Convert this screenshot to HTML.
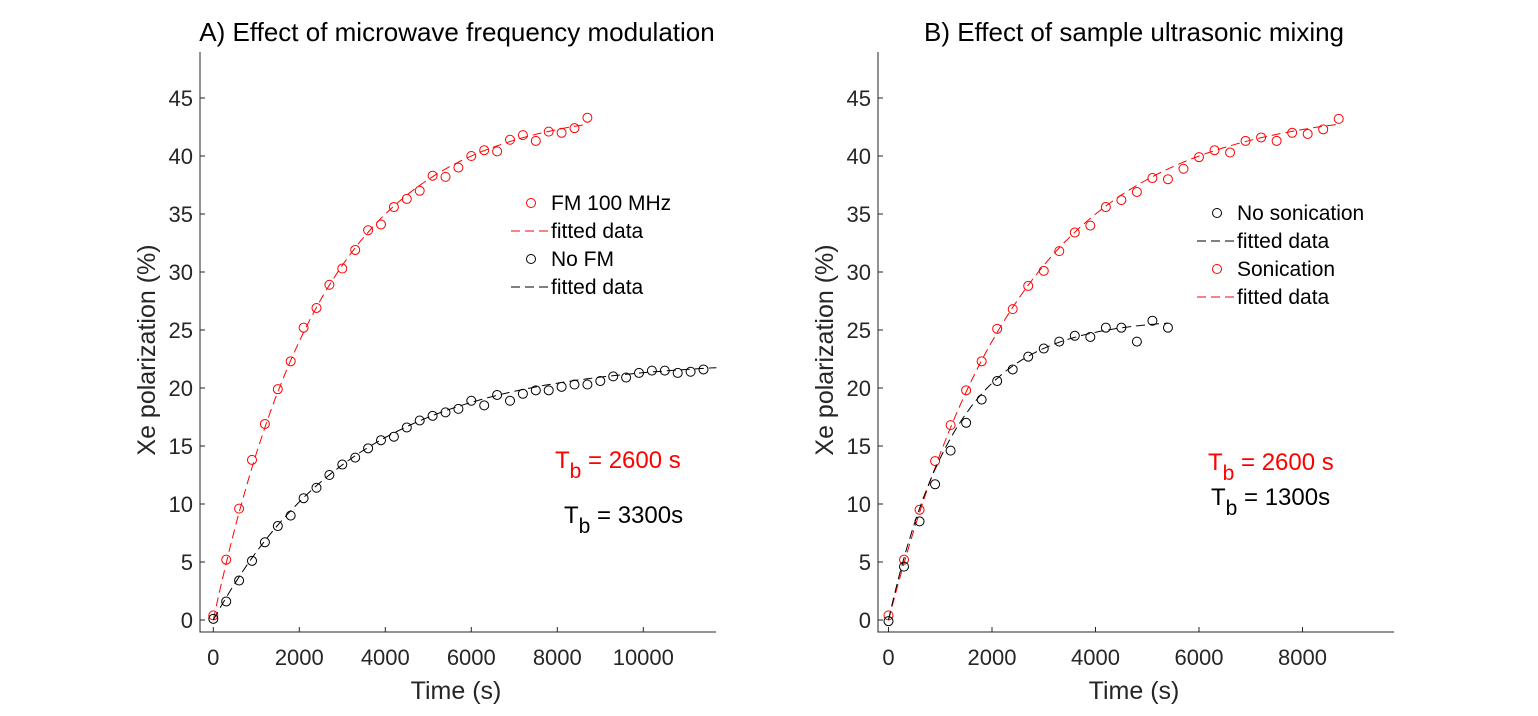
<!DOCTYPE html>
<html><head><meta charset="utf-8"><style>
body{margin:0;background:#fff;}
svg text{font-family:"Liberation Sans",Arial,sans-serif;}
</style></head><body>
<svg id="fig" width="1538" height="711" xmlns="http://www.w3.org/2000/svg"></svg>
<script>
const timesA_red = [0,300,600,900,1200,1500,1800,2100,2400,2700,3000,3300,3600,3900,4200,4500,4800,5100,5400,5700,6000,6300,6600,6900,7200,7500,7800,8100,8400,8700];
const valuesA_red = [0.4,5.2,9.6,13.8,16.9,19.9,22.3,25.2,26.9,28.9,30.3,31.9,33.6,34.1,35.6,36.3,37.0,38.3,38.2,39.0,40.0,40.5,40.4,41.4,41.8,41.3,42.1,42.0,42.4,43.3];
const timesA_black = [0,300,600,900,1200,1500,1800,2100,2400,2700,3000,3300,3600,3900,4200,4500,4800,5100,5400,5700,6000,6300,6600,6900,7200,7500,7800,8100,8400,8700,9000,9300,9600,9900,10200,10500,10800,11100,11400];
const valuesA_black = [0.1,1.6,3.4,5.1,6.7,8.1,9.0,10.5,11.4,12.5,13.4,14.0,14.8,15.5,15.8,16.6,17.2,17.6,17.9,18.2,18.9,18.5,19.4,18.9,19.5,19.8,19.8,20.1,20.3,20.3,20.6,21.0,20.9,21.3,21.5,21.5,21.3,21.4,21.6];
const timesB_black = [0,300,600,900,1200,1500,1800,2100,2400,2700,3000,3300,3600,3900,4200,4500,4800,5100,5400];
const valuesB_black = [-0.1,4.6,8.5,11.7,14.6,17.0,19.0,20.6,21.6,22.7,23.4,24.0,24.5,24.4,25.2,25.2,24.0,25.8,25.2];
const timesB_red = timesA_red;
const valuesB_red = [0.4,5.2,9.5,13.7,16.8,19.8,22.3,25.1,26.8,28.8,30.1,31.8,33.4,34.0,35.6,36.2,36.9,38.1,38.0,38.9,39.9,40.5,40.3,41.3,41.6,41.3,42.0,41.9,42.3,43.2];
// exponential fit parameters [amplitude, Tb, tEnd]
const fitA_red = [44.2, 2550, 8700];
const fitA_black = [22.4, 3300, 11700];
const fitB_red = [44.2, 2550, 8700];
const fitB_black = [26.0, 1300, 5400];
const yTicks = [0,5,10,15,20,25,30,35,40,45];
const xTicksA = [0,2000,4000,6000,8000,10000];
const xTicksB = [0,2000,4000,6000,8000];

const NS="http://www.w3.org/2000/svg";
const svg=document.getElementById('fig');
function el(tag,attrs,parent,text){const e=document.createElementNS(NS,tag);for(const k in attrs)e.setAttribute(k,attrs[k]);if(text!==undefined)e.textContent=text;(parent||svg).appendChild(e);return e;}

function panel(cfg){
  const g=el('g',{});
  
  
  const L=cfg.left,R=cfg.right,T=52,B=632;
  const x=v=>cfg.x0+v*cfg.xs;
  const y=v=>620-v*11.6;
  const ax=el('path',{d:`M${L},${T}V${B}H${R}`,stroke:'#262626',fill:'none','stroke-width':1},g);
  
  
  yTicks.forEach(t=>{
    el('line',{x1:L,x2:L+5,y1:y(t),y2:y(t),stroke:'#262626'},g);
    const tx=el('text',{x:L-7,y:y(t)+8,'text-anchor':'end','font-size':22,fill:'#262626'},g,String(t));
    
    
  });
  cfg.xticks.forEach(t=>{
    el('line',{x1:x(t),x2:x(t),y1:B,y2:B-5,stroke:'#262626'},g);
    const tx=el('text',{x:x(t),y:B+33,'text-anchor':'middle','font-size':22,fill:'#262626'},g,String(t));
    
    
  });
  const ttl=el('text',{x:cfg.tx,y:41,'text-anchor':'middle','font-size':26,fill:'#000'},g,cfg.title);
  
  
  const xl=el('text',{x:(L+R)/2-2,y:699,'text-anchor':'middle','font-size':25,fill:'#262626'},g,'Time (s)');
  
  
  const yl=el('text',{x:0,y:0,'text-anchor':'middle','font-size':25,fill:'#262626',transform:`translate(${L-45},${350}) rotate(-90)`},g,'Xe polarization (%)');
  
  
  cfg.series.forEach(s=>{
    const [A,Tb,tEnd]=s.fit;let d='';
    for(let i=0;i<=120;i++){const t=tEnd*i/120;d+=(i?'L':'M')+x(t).toFixed(1)+','+y(A*(1-Math.exp(-t/Tb))).toFixed(1);}
    const p=el('path',{d,stroke:s.color,fill:'none','stroke-width':1,'stroke-dasharray':'9,5'},g);
    
    
    s.t.forEach((t,i)=>{
      const c=el('circle',{cx:x(t),cy:y(s.v[i]),r:4.5,stroke:s.color,fill:'none','stroke-width':1},g);
      
      
    });
  });
  cfg.legend.forEach((it,i)=>{
    const ly=cfg.ly+i*28;
    if(it.marker){el('circle',{cx:cfg.lx,cy:ly,r:4.5,stroke:it.color,fill:'none'},g);}
    else{el('line',{x1:cfg.lx-20,x2:cfg.lx+20,y1:ly,y2:ly,stroke:it.color,'stroke-dasharray':'9,5'},g);}
    const lt=el('text',{x:cfg.lx+20,y:ly+7,'font-size':21,fill:'#000'},g,it.label);
    
    
  });
  cfg.notes.forEach(n=>{
    const t=el('text',{x:n.x,y:n.y,'font-size':24,fill:n.color},g);
    
    
    el('tspan',{},t,'T');
    el('tspan',{dy:10,'font-size':21},t,'b');
    el('tspan',{dy:-10},t,n.text);
  });
}
panel({name:'panel-a',left:200,right:716,x0:213.3,xs:0.043,xticks:xTicksA,tx:457,
  title:'A) Effect of microwave frequency modulation',
  series:[{name:'fm-100mhz',color:'#ff0000',t:timesA_red,v:valuesA_red,fit:fitA_red},
          {name:'no-fm',color:'#000',t:timesA_black,v:valuesA_black,fit:fitA_black}],
  lx:531,ly:203,
  legend:[{marker:1,color:'#ff0000',label:'FM 100 MHz'},{marker:0,color:'#ff0000',label:'fitted data'},{marker:1,color:'#000',label:'No FM'},{marker:0,color:'#000',label:'fitted data'}],
  notes:[{x:555,y:468,color:'#ff0000',text:' = 2600 s'},{x:564,y:523,color:'#000',text:' = 3300s'}]});
panel({name:'panel-b',left:878,right:1394,x0:888.5,xs:0.05175,xticks:xTicksB,tx:1134,
  title:'B) Effect of sample ultrasonic mixing',
  series:[{name:'sonication',color:'#ff0000',t:timesB_red,v:valuesB_red,fit:fitB_red},
          {name:'no-sonication',color:'#000',t:timesB_black,v:valuesB_black,fit:fitB_black}],
  lx:1217,ly:213,
  legend:[{marker:1,color:'#000',label:'No sonication'},{marker:0,color:'#000',label:'fitted data'},{marker:1,color:'#ff0000',label:'Sonication'},{marker:0,color:'#ff0000',label:'fitted data'}],
  notes:[{x:1208,y:470,color:'#ff0000',text:' = 2600 s'},{x:1211,y:505,color:'#000',text:' = 1300s'}]});
</script>
</body></html>
